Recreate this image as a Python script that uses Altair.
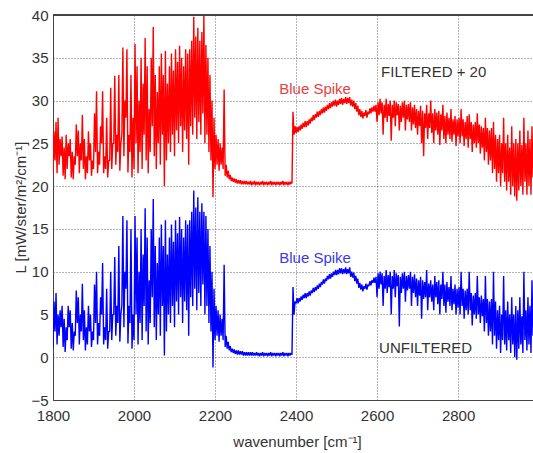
import altair as alt
import pandas as pd

# Spectra were sampled in 5 cm^-1 bins from 1800 to 2985 cm^-1.
# Each bin gives the [min, max] radiance read off the trace in that bin
# (min/max decimation of the dense spectrum), in mW/ster/m^2/cm^-1.
WN_START = 1800
WN_STEP = 5

# ---------------- UNFILTERED (blue) ----------------
unf_1800 = [[1.0, 6.5], [3.0, 7.5], [1.5, 5.0], [2.5, 5.5], [3.5, 6.0], [1.2, 4.5], [0.6, 3.5], [2.0, 6.0], [3.5, 5.5], [1.0, 4.0],
            [0.8, 3.0], [2.5, 7.8], [4.0, 7.0], [1.5, 5.0], [3.0, 8.6], [2.0, 5.5], [0.8, 3.5], [1.5, 6.0], [3.0, 5.0], [1.2, 3.0],
            [2.0, 8.5], [4.0, 10.0], [1.5, 4.0], [2.5, 7.0], [5.0, 11.0], [1.5, 3.5], [2.0, 8.0], [1.0, 3.0], [3.0, 10.0], [2.0, 5.0],
            [5.0, 11.7], [2.5, 6.0], [4.0, 13.0], [1.8, 5.0], [6.0, 16.5], [3.5, 10.0], [8.0, 16.0], [1.6, 6.0], [4.0, 15.0], [1.0, 5.0]]
unf_2000 = [[2.0, 16.5], [5.0, 14.0], [1.5, 10.0], [4.0, 15.0], [2.0, 12.0], [6.0, 17.4], [3.0, 14.0], [1.5, 9.0], [4.0, 15.0], [7.0, 18.5],
            [3.5, 13.0], [2.0, 11.0], [5.0, 14.0], [2.5, 15.5], [6.0, 13.0], [0.2, 16.0], [3.0, 12.0], [5.0, 14.0], [4.0, 15.5], [6.0, 13.5],
            [3.5, 16.0], [6.5, 14.5], [5.0, 16.4], [7.0, 15.0], [4.0, 14.0], [6.5, 16.0], [5.5, 15.5], [2.5, 16.0], [7.0, 17.0], [6.0, 19.5],
            [8.0, 17.5], [5.5, 18.7], [7.5, 17.0], [6.0, 18.0], [8.5, 17.0], [5.0, 16.5], [6.0, 15.0], [4.0, 13.0], [3.0, 10.0], [-1.2, 8.0]]
unf_2200 = [[2.0, 6.0], [2.5, 5.5], [1.8, 5.0], [2.5, 4.5], [2.0, 10.8], [1.2, 2.5], [1.0, 1.8], [0.8, 1.3], [0.6, 1.0], [0.5, 0.9],
            [0.4, 0.8], [0.3, 0.8], [0.3, 0.7], [0.3, 0.7], [0.2, 0.6], [0.2, 0.6], [0.2, 0.6], [0.2, 0.6], [0.2, 0.6], [0.2, 0.5],
            [0.2, 0.6], [0.2, 0.5], [0.1, 0.5], [0.2, 0.6], [0.1, 0.5], [0.2, 0.5], [0.1, 0.5], [0.2, 0.6], [0.1, 0.5], [0.2, 0.5],
            [0.1, 0.5], [0.2, 0.5], [0.1, 0.5], [0.2, 0.6], [0.1, 0.5], [0.2, 0.5], [0.1, 0.5], [0.2, 0.5], [0.3, 8.2], [5.0, 6.5]]
unf_2400 = [[6.3, 6.9], [6.3, 6.9], [6.5, 7.1], [6.7, 7.3], [6.9, 7.5], [6.9, 7.5], [7.1, 7.7], [7.2, 7.8], [7.5, 8.1], [7.6, 8.2],
            [7.8, 8.4], [8.0, 8.6], [8.2, 8.8], [8.5, 9.1], [8.6, 9.2], [8.9, 9.5], [9.1, 9.7], [9.2, 9.8], [9.4, 10.0], [9.6, 10.2],
            [9.6, 10.2], [9.7, 10.4], [9.8, 10.4], [9.7, 10.3], [9.8, 10.5], [9.7, 10.3], [9.8, 10.5], [9.4, 10.0], [9.3, 9.9], [8.9, 9.5],
            [8.6, 9.2], [8.1, 8.7], [7.9, 8.5], [7.7, 8.3], [8.0, 8.6], [7.9, 8.5], [8.3, 8.9], [8.4, 9.0], [8.7, 9.3], [8.7, 9.4]]
unf_2600 = [[7.0, 9.8], [8.0, 10.0], [8.5, 9.8], [6.0, 9.5], [8.0, 10.2], [7.5, 9.6], [8.2, 10.0], [5.0, 9.5], [8.0, 10.2], [7.0, 9.8],
            [8.3, 9.6], [3.6, 9.4], [7.5, 9.8], [8.0, 10.0], [6.5, 9.5], [7.8, 9.6], [8.0, 10.0], [6.0, 9.4], [7.5, 9.7], [7.0, 9.2],
            [6.0, 9.0], [7.2, 9.4], [4.5, 9.0], [6.8, 8.8], [7.0, 10.2], [5.5, 8.6], [7.0, 9.0], [6.5, 8.5], [5.5, 9.5], [7.0, 8.8],
            [6.2, 9.0], [5.0, 8.5], [6.8, 10.0], [6.0, 8.5], [5.2, 8.8], [6.5, 8.2], [6.0, 9.5], [5.5, 8.0], [6.2, 8.5], [5.0, 8.0]]
unf_2800 = [[5.8, 8.2], [5.0, 10.0], [6.0, 8.0], [4.5, 7.8], [5.5, 8.0], [5.0, 10.0], [5.5, 7.5], [3.7, 7.2], [5.0, 7.5], [4.5, 9.5],
            [5.0, 7.0], [4.0, 7.2], [4.8, 6.8], [3.0, 9.5], [4.0, 6.8], [2.5, 6.5], [3.0, 6.8], [1.5, 10.0], [2.5, 6.5], [1.0, 5.5],
            [2.0, 6.0], [0.5, 5.0], [2.0, 9.5], [1.5, 5.5], [0.8, 6.5], [2.0, 5.0], [0.5, 7.0], [1.5, 5.0], [0.0, 6.0], [-0.3, 5.5],
            [1.0, 7.0], [1.5, 4.8], [0.5, 10.0], [2.0, 5.5], [0.8, 7.0], [1.5, 6.0], [0.5, 9.0], [2.5, 5.0]]

# ---------------- FILTERED + 20 (red) ----------------
fil_1800 = [[21.0, 26.4], [23.0, 27.5], [21.5, 28.0], [22.5, 25.5], [23.5, 25.8], [21.2, 24.5], [20.8, 26.0], [22.0, 25.0], [23.5, 25.5], [21.0, 24.0],
            [20.8, 23.5], [22.5, 27.2], [23.5, 26.5], [21.5, 25.0], [23.0, 28.3], [22.0, 25.5], [20.8, 23.5], [21.5, 26.4], [23.0, 25.0], [21.2, 23.0],
            [22.0, 28.5], [24.0, 31.1], [21.5, 24.0], [22.5, 27.0], [25.0, 31.1], [21.5, 23.5], [22.0, 28.0], [21.0, 23.0], [23.0, 31.5], [22.0, 25.0],
            [25.0, 32.9], [22.5, 26.0], [24.0, 33.0], [21.8, 25.0], [26.0, 36.2], [23.5, 30.0], [28.0, 36.0], [21.6, 26.0], [24.0, 33.0], [21.0, 28.0]]
fil_2000 = [[22.0, 36.6], [25.0, 34.0], [21.5, 30.0], [24.0, 35.0], [22.0, 32.0], [26.0, 37.3], [23.0, 34.0], [21.5, 29.0], [24.0, 35.0], [27.0, 38.6],
            [23.5, 33.0], [22.0, 31.0], [25.0, 34.0], [22.5, 35.5], [26.0, 33.0], [20.0, 35.8], [23.0, 32.0], [25.0, 34.0], [24.0, 35.5], [26.0, 33.5],
            [23.5, 36.0], [26.5, 34.5], [25.0, 36.4], [27.0, 35.0], [24.0, 34.0], [26.5, 36.0], [25.5, 35.5], [22.5, 36.0], [27.0, 37.0], [26.0, 39.8],
            [28.0, 37.5], [25.5, 38.5], [27.5, 37.0], [26.0, 38.0], [28.5, 40.0], [25.0, 36.5], [26.0, 35.0], [24.0, 33.0], [23.0, 30.0], [18.7, 28.0]]
fil_2200 = [[22.0, 26.0], [22.5, 25.5], [21.8, 25.0], [22.5, 24.5], [22.0, 31.3], [21.2, 22.5], [21.0, 21.8], [20.8, 21.3], [20.6, 21.0], [20.5, 20.9],
            [20.4, 20.8], [20.3, 20.7], [20.3, 20.7], [20.2, 20.6], [20.2, 20.6], [20.2, 20.6], [20.2, 20.5], [20.2, 20.6], [20.1, 20.5], [20.2, 20.6],
            [20.1, 20.5], [20.2, 20.5], [20.1, 20.5], [20.2, 20.6], [20.1, 20.5], [20.2, 20.5], [20.1, 20.5], [20.2, 20.6], [20.1, 20.5], [20.2, 20.5],
            [20.1, 20.5], [20.2, 20.5], [20.1, 20.5], [20.2, 20.6], [20.1, 20.5], [20.2, 20.5], [20.1, 20.5], [20.2, 20.5], [20.3, 28.7], [26.0, 27.0]]
fil_2400 = [[26.2, 26.9], [26.3, 27.0], [26.5, 27.2], [26.7, 27.4], [26.9, 27.6], [26.9, 27.6], [27.1, 27.8], [27.3, 28.0], [27.6, 28.3], [27.7, 28.4],
            [28.0, 28.7], [28.1, 28.8], [28.3, 29.0], [28.5, 29.2], [28.6, 29.3], [28.8, 29.5], [29.0, 29.7], [29.1, 29.8], [29.3, 30.0], [29.4, 30.1],
            [29.3, 30.0], [29.5, 30.2], [29.6, 30.3], [29.5, 30.2], [29.7, 30.4], [29.6, 30.3], [29.7, 30.4], [29.4, 30.1], [29.3, 30.0], [29.0, 29.7],
            [28.7, 29.4], [28.3, 29.0], [28.1, 28.8], [27.9, 28.6], [28.2, 28.9], [28.0, 28.7], [28.4, 29.1], [28.5, 29.2], [28.7, 29.4], [28.7, 29.5]]
fil_2600 = [[27.5, 29.8], [28.3, 30.2], [28.5, 29.8], [26.0, 29.5], [28.0, 30.2], [27.5, 29.6], [28.2, 30.0], [25.3, 29.5], [28.0, 30.0], [27.0, 29.8],
            [28.3, 29.6], [26.5, 29.4], [27.5, 29.8], [28.0, 30.0], [26.5, 29.5], [27.8, 29.6], [27.5, 29.8], [26.5, 29.2], [27.2, 29.5], [26.8, 29.0],
            [26.0, 28.8], [27.0, 29.4], [25.0, 28.8], [23.5, 28.5], [26.8, 29.5], [25.5, 28.5], [26.8, 30.0], [26.2, 28.5], [25.0, 29.0], [26.5, 28.6],
            [26.0, 28.8], [24.8, 28.4], [26.5, 29.5], [25.5, 28.2], [25.0, 28.6], [26.0, 28.0], [25.5, 29.0], [25.2, 27.8], [26.0, 28.2], [24.7, 27.8]]
fil_2800 = [[25.8, 28.0], [25.0, 29.0], [25.8, 27.8], [24.7, 27.5], [25.5, 28.2], [24.5, 28.4], [25.5, 27.5], [24.0, 27.2], [25.0, 27.5], [24.5, 28.5],
            [25.0, 27.2], [23.8, 27.0], [24.5, 26.8], [23.0, 28.0], [24.0, 26.8], [22.5, 26.5], [23.0, 26.8], [21.5, 27.5], [22.0, 26.0], [20.5, 25.5],
            [21.5, 26.0], [20.0, 25.0], [21.5, 28.0], [20.5, 25.0], [19.5, 26.0], [20.5, 24.5], [19.0, 27.0], [20.0, 25.0], [18.8, 25.5], [18.3, 25.0],
            [19.5, 26.5], [20.0, 24.8], [19.0, 28.0], [20.5, 25.0], [19.0, 26.5], [20.0, 25.5], [19.0, 27.0], [21.0, 25.0]]

x_ticks = [1800, 2000, 2200, 2400, 2600, 2800]
y_ticks = [-5, 0, 5, 10, 15, 20, 25, 30, 35, 40]


def trace(bins, name):
    """Draw each bin's min then max, so the line sweeps the bin's range."""
    rows = []
    for i, (lo, hi) in enumerate(bins):
        w = WN_START + WN_STEP * i
        rows.append({"wn": w, "L": lo, "series": name})
        rows.append({"wn": w + WN_STEP / 2, "L": hi, "series": name})
    return pd.DataFrame(rows)


unfiltered = unf_1800 + unf_2000 + unf_2200 + unf_2400 + unf_2600 + unf_2800
filtered20 = fil_1800 + fil_2000 + fil_2200 + fil_2400 + fil_2600 + fil_2800

df = pd.concat([trace(filtered20, "FILTERED + 20"), trace(unfiltered, "UNFILTERED")])

FONT = "Liberation Sans"
FS = 15
xscale = alt.Scale(domain=[1800, 2985], nice=False, zero=False)
yscale = alt.Scale(domain=[-5, 40], nice=False, zero=False)

lines = alt.Chart(df).mark_line(strokeWidth=1.4, strokeJoin="bevel", clip=True).encode(
    x=alt.X("wn:Q", scale=xscale,
            axis=alt.Axis(values=x_ticks, title="wavenumber [cm⁻¹]", format="d",
                          grid=True, gridColor="#666", gridDash=[1, 2], gridWidth=1,
                          ticks=False, domainColor="#444", labelPadding=8,
                          labelFont=FONT, labelFontSize=FS, labelColor="#333",
                          titleFont=FONT, titleFontSize=FS, titleFontWeight="normal",
                          titleColor="#333", titleX=244, titleY=41,
                          titleBaseline="middle", labelFlush=False)),
    y=alt.Y("L:Q", scale=yscale,
            axis=alt.Axis(values=y_ticks, title="L [mW/ster/m²/cm⁻¹]",
                          grid=True, gridColor="#666", gridDash=[1, 2], gridWidth=1,
                          ticks=False, domainColor="#444", labelPadding=5,
                          labelFont=FONT, labelFontSize=FS, labelColor="#333",
                          titleFont=FONT, titleFontSize=FS, titleFontWeight="normal",
                          titleColor="#333", titleX=-33, titleY=192,
                          titleBaseline="middle", labelFlush=False)),
    color=alt.Color("series:N",
                    scale=alt.Scale(domain=["FILTERED + 20", "UNFILTERED"],
                                    range=["#ff0000", "#0000ff"]),
                    legend=None),
    detail="series:N",
)

top_border = alt.Chart(df).mark_rule(color="#444", strokeWidth=1).encode(
    y=alt.value(0)
)

ann = pd.DataFrame({
    "wn": [2447, 2447, 2610, 2605],
    "L": [31.4, 11.65, 33.3, 1.1],
    "text": ["Blue Spike", "Blue Spike", "FILTERED + 20", "UNFILTERED"],
    "kind": ["r", "b", "k", "k"],
})

spike_labels = alt.Chart(ann).transform_filter("datum.kind != 'k'").mark_text(
    font=FONT, fontSize=FS, align="center", baseline="middle"
).encode(
    x=alt.X("wn:Q", scale=xscale),
    y=alt.Y("L:Q", scale=yscale),
    text="text:N",
    color=alt.Color("kind:N", scale=alt.Scale(domain=["r", "b"],
                                              range=["#e8403f", "#3a3ae6"]),
                    legend=None),
)

side_labels = alt.Chart(ann).transform_filter("datum.kind == 'k'").mark_text(
    font=FONT, fontSize=FS, align="left", baseline="middle", color="#333"
).encode(
    x=alt.X("wn:Q", scale=xscale),
    y=alt.Y("L:Q", scale=yscale),
    text="text:N",
)

chart = alt.layer(lines, top_border, spike_labels, side_labels).resolve_scale(
    color="independent"
).properties(
    width=480, height=385,
    autosize=alt.AutoSizeParams(type="none"),
    padding={"left": 53, "top": 15, "right": 0, "bottom": 53},
).configure_view(stroke=None).configure(background="white")

chart.save("out.html", embed_options={"renderer": "svg", "actions": False})
